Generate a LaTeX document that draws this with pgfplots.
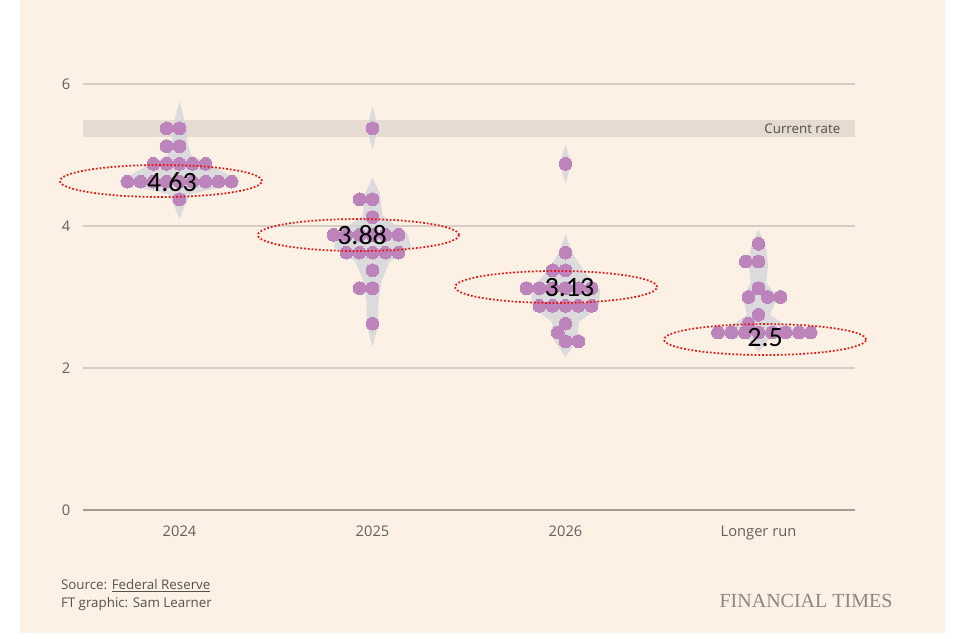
\documentclass[border=0pt]{standalone}
\usepackage{fontspec}
\setmainfont{Open Sans}
\newfontfamily\calib{Carlito}
\newfontfamily\ftserif{Liberation Serif}
\usepackage{pgfplots}
\pgfplotsset{compat=1.18}
\definecolor{bgc}{HTML}{FDF0E5}
\definecolor{dotc}{HTML}{BC84BA}
\definecolor{gridc}{HTML}{D6CDC4}
\definecolor{axc}{HTML}{A39C95}
\definecolor{bandc}{HTML}{E6DBD1}
\definecolor{txtc}{HTML}{66605C}
\definecolor{violc}{HTML}{D3D5DB}
\definecolor{ftc}{HTML}{8F8680}
\definecolor{annred}{HTML}{E8140F}
\begin{document}
\begin{tikzpicture}
\fill[white] (-62.25pt,-96.75pt) rectangle (660.75pt,382.5pt);
\fill[bgc] (-47.25pt,-92.25pt) rectangle (646.5pt,382.5pt);
\begin{axis}[at={(0,0)}, anchor=south west, scale only axis,
  width=579pt, height=319.5pt,
  xmin=-0.5, xmax=3.5, ymin=0, ymax=6, clip=false,
  axis y line*=left, axis x line*=bottom,
  y axis line style={draw=none},
  x axis line style={axc, line width=0.8pt},
  ytick={0,2,4,6}, xtick={0,1,2,3},
  xticklabels={2024,2025,2026,Longer run},
  major tick length=0pt,
  ymajorgrids, grid style={gridc, line width=0.8pt},
  tick label style={font=\fontsize{11}{13}\selectfont, text=txtc},
  /pgf/number format/assume math mode=true,
  yticklabel style={xshift=-6pt},
  xticklabel style={yshift=-8.5pt},
]
% current rate band
\fill[bandc] (axis cs:-0.5,5.25) rectangle (axis cs:3.5,5.5);
\node[anchor=east, font=\fontsize{10}{12}\selectfont, text=txtc!80!black] at (axis cs:3.448,5.375) {Current rate};
% violins
\addplot[fill=violc, draw=none, fill opacity=0.8] coordinates {
(0,5.75)(0.02,5.55)(0.04,5.375)(0.04,5.2)(0.06,5.0)(0.2,4.8)(0.3,4.65)(0.22,4.55)(0.06,4.45)(0.03,4.3)(0,4.1)
(-0.03,4.3)(-0.06,4.45)(-0.22,4.55)(-0.3,4.65)(-0.2,4.8)(-0.06,5.0)(-0.04,5.2)(-0.04,5.375)(-0.02,5.55)} -- cycle;
\addplot[fill=violc, draw=none, fill opacity=0.8] coordinates {
(1,5.68)(1.03,5.375)(1,5.08)(0.97,5.375)} -- cycle;
\addplot[fill=violc, draw=none, fill opacity=0.8] coordinates {
(1,4.68)(1.04,4.45)(1.05,4.15)(1.18,3.9)(1.2,3.7)(1.09,3.5)(1.05,3.25)(1.03,2.95)(1.03,2.6)(1,2.3)
(0.97,2.6)(0.97,2.95)(0.95,3.25)(0.91,3.5)(0.8,3.7)(0.82,3.9)(0.95,4.15)(0.96,4.45)} -- cycle;
\addplot[fill=violc, draw=none, fill opacity=0.8] coordinates {
(2,5.15)(2.03,4.875)(2,4.6)(1.97,4.875)} -- cycle;
\addplot[fill=violc, draw=none, fill opacity=0.8] coordinates {
(2,3.88)(2.04,3.6)(2.1,3.35)(2.18,3.1)(2.17,2.85)(2.07,2.65)(2.06,2.4)(2,2.15)
(1.94,2.4)(1.93,2.65)(1.83,2.85)(1.82,3.1)(1.9,3.35)(1.96,3.6)} -- cycle;
\addplot[fill=violc, draw=none, fill opacity=0.8] coordinates {
(3,3.95)(3.04,3.7)(3.05,3.45)(3.04,3.2)(3.1,3.0)(3.06,2.75)(3.14,2.6)(3.25,2.5)(3.05,2.4)(3,2.22)
(2.95,2.4)(2.77,2.5)(2.86,2.6)(2.94,2.75)(2.92,3.0)(2.96,3.2)(2.95,3.45)(2.96,3.7)} -- cycle;
% dots
\addplot[only marks, color=dotc, mark=*, mark size=4.8pt, mark options={fill=dotc, draw=dotc, line width=0pt}] coordinates {
(-0.067,5.375)(0,5.375)
(-0.067,5.125)(0,5.125)
(-0.135,4.875)(-0.067,4.875)(0,4.875)(0.067,4.875)(0.135,4.875)
(-0.270,4.625)(-0.202,4.625)(-0.135,4.625)(-0.067,4.625)(0,4.625)(0.067,4.625)(0.135,4.625)(0.202,4.625)(0.270,4.625)
(0,4.375)
(1,5.375)
(0.933,4.375)(1,4.375)
(1,4.125)
(0.798,3.875)(0.865,3.875)(0.933,3.875)(1,3.875)(1.067,3.875)(1.135,3.875)
(0.865,3.625)(0.933,3.625)(1,3.625)(1.067,3.625)(1.135,3.625)
(1,3.375)
(0.933,3.125)(1,3.125)
(1,2.625)
(2,4.875)
(2,3.625)
(1.933,3.375)(2,3.375)
(1.798,3.125)(1.865,3.125)(1.933,3.125)(2,3.125)(2.067,3.125)(2.135,3.125)
(1.865,2.875)(1.933,2.875)(2,2.875)(2.067,2.875)(2.135,2.875)
(2,2.625)
(1.96,2.5)
(2,2.375)(2.067,2.375)
(3,3.75)
(2.933,3.5)(3,3.5)
(3,3.125)
(2.948,3.0)(3.047,3.0)(3.114,3.0)
(3,2.75)
(2.948,2.625)
(2.79,2.5)(2.86,2.5)(2.93,2.5)(3,2.5)(3.07,2.5)(3.14,2.5)(3.21,2.5)(3.27,2.5)
};
% anchor points for annotations
\coordinate (e1) at (axis cs:-0.096,4.634);
\coordinate (e2) at (axis cs:0.927,3.873);
\coordinate (e3) at (axis cs:1.951,3.141);
\coordinate (e4) at (axis cs:3.034,2.401);
\coordinate (t1) at (axis cs:-0.039,4.62);
\coordinate (t2) at (axis cs:0.946,3.873);
\coordinate (t3) at (axis cs:2.021,3.13);
\coordinate (t4) at (axis cs:3.034,2.43);
\end{axis}
\begin{scope}[annred, line width=1.3pt, dash pattern=on 1.3pt off 1.5pt]
\draw (e1) ellipse [x radius=75.75pt, y radius=12pt];
\draw (e2) ellipse [x radius=75.4pt, y radius=12pt];
\draw (e3) ellipse [x radius=75.75pt, y radius=12pt];
\draw (e4) ellipse [x radius=75.75pt, y radius=11.6pt];
\end{scope}
\node[font=\calib\fontsize{21}{24}\selectfont] at (t1) {4.63};
\node[font=\calib\fontsize{21}{24}\selectfont] at (t2) {3.88};
\node[font=\calib\fontsize{21}{24}\selectfont] at (t3) {3.13};
\node[font=\calib\fontsize{21}{24}\selectfont] at (t4) {2.5};
\node[anchor=west, font=\fontsize{10}{12}\selectfont, text=txtc!85!black] at (-20pt,-57pt) {Source: \underline{Federal Reserve}};
\node[anchor=west, font=\fontsize{10}{12}\selectfont, text=txtc!85!black] at (-20pt,-70.5pt) {FT graphic: Sam Learner};
\node[font=\ftserif\fontsize{15}{17}\selectfont, text=ftc] at (542.25pt,-68.25pt) {FINANCIAL TIMES};
\end{tikzpicture}
\end{document}
